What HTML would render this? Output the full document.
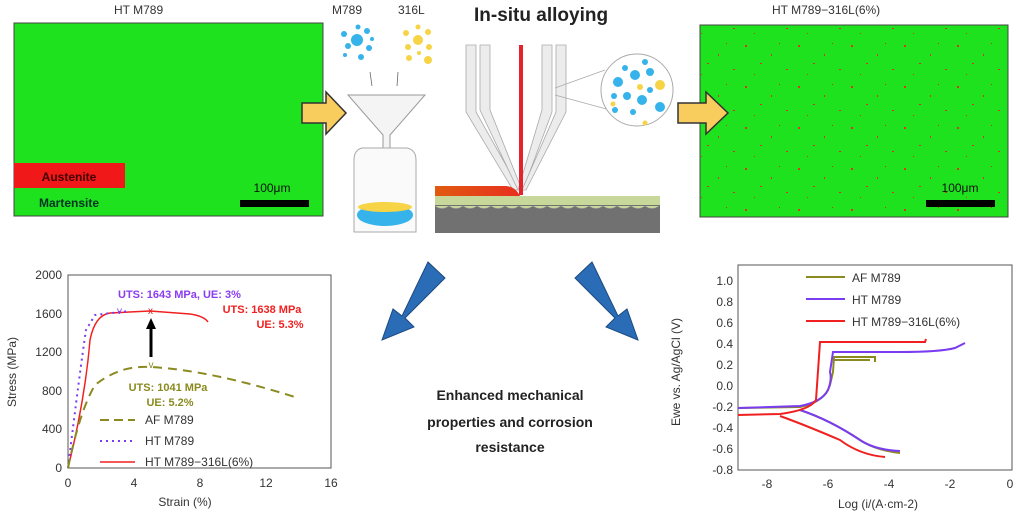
<!DOCTYPE html>
<html><head><meta charset="utf-8"><style>
body{margin:0;background:#fff;width:1024px;height:521px;overflow:hidden;font-family:"Liberation Sans",sans-serif}
</style></head><body>
<svg width="1024" height="521" viewBox="0 0 1024 521" xmlns="http://www.w3.org/2000/svg" font-family="Liberation Sans, sans-serif">
<defs>
<pattern id="sp" width="53" height="41" patternUnits="userSpaceOnUse">
<rect x="3" y="4" width="2" height="2" fill="#d83a20"/><rect x="29" y="13" width="1" height="2" fill="#d83a20"/>
<rect x="44" y="28" width="2" height="1" fill="#d03a20"/><rect x="12" y="33" width="1" height="1" fill="#d83a20"/>
<rect x="37" y="2" width="1" height="1" fill="#c03a20"/><rect x="18" y="22" width="2" height="1" fill="#d03a20"/>
</pattern>
<linearGradient id="mp" x1="0" x2="1"><stop offset="0" stop-color="#e05a10"/><stop offset="1" stop-color="#e83020"/></linearGradient>
</defs>
<!-- left panel -->
<text x="114" y="14" font-size="12" fill="#333">HT M789</text>
<rect x="14" y="23" width="309" height="193" fill="#1de21d" stroke="#444" stroke-width="1"/>
<rect x="14" y="163" width="111" height="25" fill="#f01818"/>
<text x="69" y="181" font-size="12" font-weight="bold" text-anchor="middle" fill="#400">Austenite</text>
<text x="69" y="207" font-size="12" font-weight="bold" text-anchor="middle" fill="#032">Martensite</text>
<text x="272" y="192" font-size="12" text-anchor="middle" fill="#111">100μm</text>
<rect x="240" y="200" width="69" height="7" fill="#000"/>
<!-- right panel -->
<text x="772" y="14" font-size="12" fill="#333">HT M789−316L(6%)</text>
<rect x="700" y="25" width="308" height="192" fill="#1de21d" stroke="#444"/>
<rect x="700" y="25" width="308" height="192" fill="url(#sp)"/>
<text x="960" y="192" font-size="12" text-anchor="middle" fill="#111">100μm</text>
<rect x="926" y="200" width="69" height="7" fill="#000"/>
<!-- yellow arrows -->
<path d="M302 103 H326 V92 L346 113 L326 134 V123 H302 Z" fill="#f8cd5e" stroke="#333" stroke-width="1.5"/>
<path d="M678 103 H706 V92 L728 113 L706 134 V123 H678 Z" fill="#f8cd5e" stroke="#333" stroke-width="1.5"/>
<!-- powders -->
<text x="332" y="14" font-size="12" fill="#333">M789</text>
<text x="398" y="14" font-size="12" fill="#333">316L</text>
<g fill="#35b3ea"><circle cx="357" cy="40" r="6"/><circle cx="344" cy="34" r="3"/><circle cx="367" cy="31" r="3"/><circle cx="348" cy="46" r="3"/><circle cx="369" cy="48" r="3"/><circle cx="358" cy="27" r="2.5"/><circle cx="361" cy="57" r="3"/><circle cx="345" cy="55" r="2"/><circle cx="372" cy="39" r="2"/></g>
<g fill="#f6d445"><circle cx="418" cy="40" r="5"/><circle cx="406" cy="33" r="3"/><circle cx="428" cy="32" r="3"/><circle cx="408" cy="47" r="3"/><circle cx="429" cy="47" r="3"/><circle cx="418" cy="27" r="2.5"/><circle cx="428" cy="60" r="4"/><circle cx="409" cy="58" r="3"/><circle cx="419" cy="53" r="2"/></g>
<path d="M370 72 L372 86 M398 72 L397 86" stroke="#666" stroke-width="0.8"/>
<!-- funnel & bottle -->
<path d="M348 95 H425 L390 135 V170 H383 V135 Z" fill="#f4f4f4" stroke="#999"/>
<path d="M362 148 H407 Q416 150 416 160 V232 H354 V160 Q354 150 362 148 Z" fill="#fafafa" stroke="#aaa"/>
<ellipse cx="385" cy="215" rx="28" ry="11" fill="#35b3ea"/>
<ellipse cx="385" cy="207" rx="27" ry="5" fill="#f6d445"/>
<!-- nozzle -->
<text x="474" y="21" font-size="19" font-weight="bold" fill="#222">In-situ alloying</text>
<g fill="#ececec" stroke="#aaa" stroke-width="0.8">
<path d="M466 45 H476 V112 L520 190 L513 190 L466 112 Z"/><path d="M480 45 H490 V110 L522 190 L518 190 L480 110 Z"/>
<path d="M542 45 H552 V112 L523 190 L518 190 L542 110 Z"/><path d="M556 45 H566 V112 L526 190 L522 190 L556 112 Z"/>
</g>
<rect x="519" y="45" width="4" height="150" fill="#e8222a"/>
<path d="M435 186 H505 Q515 186 520 196 H435 Z" fill="url(#mp)"/>
<rect x="435" y="196" width="225" height="10" fill="#c8d89a"/>
<rect x="435" y="205" width="225" height="28" fill="#717171"/>
<path d="M435 206 q7 5 14 0 q7 5 14 0 q7 5 14 0 q7 5 14 0 q7 5 14 0 q7 5 14 0 q7 5 14 0 q7 5 14 0 q7 5 14 0 q7 5 14 0 q7 5 14 0 q7 5 14 0 q7 5 14 0 q7 5 14 0 q7 5 14 0 q7 5 14 0" fill="#c8d89a" stroke="#999" stroke-width="0.5"/>
<path d="M555 88 L605 70 M555 95 L610 110" stroke="#aaa" stroke-width="0.8"/>
<circle cx="637" cy="90" r="36" fill="#fff" stroke="#aaa"/>
<g fill="#35b3ea"><circle cx="618" cy="82" r="5"/><circle cx="635" cy="75" r="5"/><circle cx="650" cy="72" r="4"/><circle cx="627" cy="96" r="4"/><circle cx="642" cy="100" r="5"/><circle cx="660" cy="107" r="5"/><circle cx="615" cy="110" r="3"/><circle cx="633" cy="112" r="3"/><circle cx="650" cy="90" r="3"/><circle cx="625" cy="68" r="3"/><circle cx="645" cy="62" r="3"/><circle cx="614" cy="96" r="3"/></g>
<g fill="#f6d445"><circle cx="660" cy="85" r="5"/><circle cx="640" cy="87" r="3"/><circle cx="613" cy="104" r="2.5"/><circle cx="645" cy="123" r="2.5"/></g>
<!-- blue arrows -->
<path d="M428 262 L445 278 L405 318 L414 327 L382 340 L393 309 L402 316 Z" fill="#2a6cb5" stroke="#1c4a80"/>
<path d="M592 262 L575 278 L615 318 L606 327 L638 340 L627 309 L618 316 Z" fill="#2a6cb5" stroke="#1c4a80"/>
<text x="510" y="400" font-size="14" font-weight="bold" text-anchor="middle" fill="#222">Enhanced mechanical</text>
<text x="510" y="427" font-size="14" font-weight="bold" text-anchor="middle" fill="#222">properties and corrosion</text>
<text x="510" y="452" font-size="14" font-weight="bold" text-anchor="middle" fill="#222">resistance</text>
<!-- left plot -->
<g font-size="12" fill="#333">
<rect x="68" y="275" width="263" height="193" fill="none" stroke="#555"/>
<text x="62" y="279" text-anchor="end">2000</text><text x="62" y="318" text-anchor="end">1600</text><text x="62" y="356" text-anchor="end">1200</text><text x="62" y="395" text-anchor="end">800</text><text x="62" y="433" text-anchor="end">400</text><text x="62" y="472" text-anchor="end">0</text>
<text x="68" y="487" text-anchor="middle">0</text><text x="134" y="487" text-anchor="middle">4</text><text x="200" y="487" text-anchor="middle">8</text><text x="266" y="487" text-anchor="middle">12</text><text x="331" y="487" text-anchor="middle">16</text>
<text x="185" y="506" text-anchor="middle">Strain (%)</text>
<text transform="translate(16 372) rotate(-90)" text-anchor="middle">Stress (MPa)</text>
</g>
<path d="M68 468 Q85 400 90 340 Q95 315 110 313 L150 311 L190 314 Q204 316 208 322" fill="none" stroke="#f02020" stroke-width="1.5"/>
<path d="M68 468 Q80 370 86 330 L95 315 L120 312 L130 311" fill="none" stroke="#7a3cf0" stroke-width="2" stroke-dasharray="2 4"/>
<path d="M68 468 Q80 410 95 385 Q120 365 150 367 Q210 370 298 398" fill="none" stroke="#8a8a20" stroke-width="2" stroke-dasharray="9 6"/>
<text x="118" y="298" font-size="11" font-weight="bold" fill="#8a3cf0">UTS: 1643 MPa, UE: 3%</text>
<text x="117" y="314" font-size="10" fill="#8a3cf0">v</text>
<text x="148" y="314" font-size="10" fill="#e02020">x</text>
<text x="262" y="313" font-size="11" font-weight="bold" text-anchor="middle" fill="#f02020">UTS: 1638 MPa</text>
<text x="280" y="328" font-size="11" font-weight="bold" text-anchor="middle" fill="#f02020">UE: 5.3%</text>
<path d="M151 357 V325" stroke="#000" stroke-width="3"/><path d="M146 329 L151 318 L156 329 Z" fill="#000"/>
<text x="151" y="368" font-size="10" text-anchor="middle" fill="#8a8a20">v</text>
<text x="168" y="391" font-size="11" font-weight="bold" text-anchor="middle" fill="#8a8a20">UTS: 1041 MPa</text>
<text x="170" y="406" font-size="11" font-weight="bold" text-anchor="middle" fill="#8a8a20">UE: 5.2%</text>
<path d="M100 420 H135" stroke="#8a8a20" stroke-width="2" stroke-dasharray="9 5"/>
<path d="M100 441 H135" stroke="#7a3cf0" stroke-width="2" stroke-dasharray="2 4"/>
<path d="M100 462 H135" stroke="#f02020" stroke-width="1.5"/>
<g font-size="12" fill="#333"><text x="145" y="424">AF M789</text><text x="145" y="445">HT M789</text><text x="145" y="466">HT M789−316L(6%)</text></g>
<!-- right plot -->
<g font-size="12" fill="#333">
<rect x="738" y="265" width="274" height="205" fill="none" stroke="#555"/>
<text x="733" y="285" text-anchor="end">1.0</text><text x="733" y="306" text-anchor="end">0.8</text><text x="733" y="327" text-anchor="end">0.6</text><text x="733" y="348" text-anchor="end">0.4</text><text x="733" y="369" text-anchor="end">0.2</text><text x="733" y="390" text-anchor="end">0.0</text><text x="733" y="411" text-anchor="end">-0.2</text><text x="733" y="432" text-anchor="end">-0.4</text><text x="733" y="453" text-anchor="end">-0.6</text><text x="733" y="474" text-anchor="end">-0.8</text>
<text x="767" y="488" text-anchor="middle">-8</text><text x="828" y="488" text-anchor="middle">-6</text><text x="889" y="488" text-anchor="middle">-4</text><text x="950" y="488" text-anchor="middle">-2</text><text x="1010" y="488" text-anchor="middle">0</text>
<text x="878" y="508" text-anchor="middle">Log (i/(A·cm-2)</text>
<text transform="translate(680 372) rotate(-90)" text-anchor="middle">Ewe vs. Ag/AgCl (V)</text>
</g>
<path d="M738 408 L800 407 Q825 402 830 385 L833 372 L834 357 L875 357 L875 362 M834 360 H870" fill="none" stroke="#8a8a20" stroke-width="2"/>
<path d="M800 410 Q830 420 860 440 Q875 450 900 453" fill="none" stroke="#8a8a20" stroke-width="2"/>
<path d="M738 408 L800 406 Q822 402 828 390 Q832 380 830 372 L833 352 L900 352 Q940 352 955 348 L965 343" fill="none" stroke="#7a3cf0" stroke-width="2"/>
<path d="M800 410 Q830 420 860 440 Q875 450 900 451" fill="none" stroke="#7a3cf0" stroke-width="2"/>
<path d="M738 415 L780 414 Q810 410 816 400 L820 342 L925 342 L926 339" fill="none" stroke="#f02020" stroke-width="2"/>
<path d="M780 416 Q805 425 840 440 Q860 455 885 457" fill="none" stroke="#f02020" stroke-width="2"/>
<path d="M806 277 H845" stroke="#8a8a20" stroke-width="2"/><path d="M806 299 H845" stroke="#7a3cf0" stroke-width="2"/><path d="M806 321 H845" stroke="#f02020" stroke-width="2"/>
<g font-size="12" fill="#333"><text x="852" y="282">AF M789</text><text x="852" y="304">HT M789</text><text x="852" y="326">HT M789−316L(6%)</text></g>
</svg>
</body></html>
